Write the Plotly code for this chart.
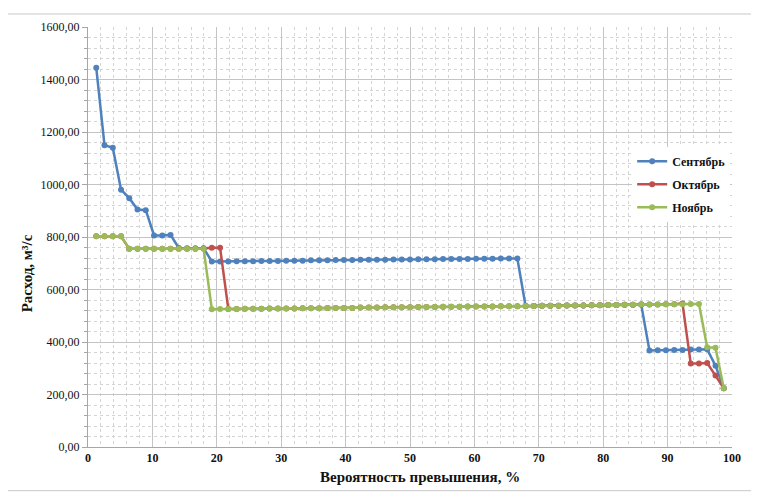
import plotly.graph_objects as go

# exceedance probability, %
prob = [1.28, 2.56, 3.85, 5.13, 6.41, 7.69, 8.97, 10.26, 11.54, 12.82,
        14.10, 15.38, 16.67, 17.95, 19.23, 20.51, 21.79, 23.08, 24.36, 25.64,
        26.92, 28.21, 29.49, 30.77, 32.05, 33.33, 34.62, 35.90, 37.18, 38.46,
        39.74, 41.03, 42.31, 43.59, 44.87, 46.15, 47.44, 48.72, 50.00, 51.28,
        52.56, 53.85, 55.13, 56.41, 57.69, 58.97, 60.26, 61.54, 62.82, 64.10,
        65.38, 66.67, 67.95, 69.23, 70.51, 71.79, 73.08, 74.36, 75.64, 76.92,
        78.21, 79.49, 80.77, 82.05, 83.33, 84.62, 85.90, 87.18, 88.46, 89.74,
        91.03, 92.31, 93.59, 94.87, 96.15, 97.44, 98.72]

sep = [1445, 1150, 1140, 980, 948, 905, 902, 806, 806, 808,
       758, 757, 757, 757, 707, 707, 707, 708, 708, 708,
       709, 709, 709, 710, 710, 710, 711, 711, 711, 712,
       712, 712, 713, 713, 713, 713, 714, 714, 714, 715,
       715, 715, 716, 716, 716, 716, 717, 717, 717, 718,
       718, 718, 537, 537, 538, 538, 538, 539, 539, 539,
       540, 540, 541, 541, 542, 542, 543, 368, 369, 369,
       370, 370, 371, 371, 372, 310, 224]

okt = [803, 803, 803, 803, 755, 755, 755, 755, 755, 755,
       755, 755, 755, 756, 759, 759, 526, 526, 527, 527,
       527, 528, 528, 528, 528, 529, 529, 529, 530, 530,
       530, 530, 531, 531, 531, 532, 532, 532, 532, 533,
       533, 533, 534, 534, 534, 535, 535, 535, 535, 536,
       536, 536, 537, 537, 538, 538, 538, 539, 539, 539,
       540, 540, 541, 541, 542, 542, 543, 543, 543, 544,
       544, 547, 318, 318, 320, 272, 224]

noy = [803, 803, 803, 803, 755, 755, 755, 755, 755, 755,
       755, 755, 755, 755, 525, 526, 526, 526, 527, 527,
       527, 528, 528, 528, 528, 529, 529, 529, 530, 530,
       530, 530, 531, 531, 531, 532, 532, 532, 532, 533,
       533, 533, 534, 534, 534, 535, 535, 535, 535, 536,
       536, 536, 537, 537, 538, 538, 538, 539, 539, 539,
       540, 540, 541, 541, 542, 542, 543, 543, 543, 544,
       544, 544, 545, 545, 380, 378, 224]

series = [('Сентябрь', sep, '#4F81BD'),
          ('Октябрь', okt, '#C0504D'),
          ('Ноябрь', noy, '#9BBB59')]

serif = 'Liberation Serif'

fig = go.Figure()
for name, vals, col in series:
    fig.add_trace(go.Scatter(
        x = prob, y = vals, mode = 'lines+markers', name = '<b>' + name + '</b>',
        legendgroup = name,
        line = dict(color = col, width = 2.5),
        marker = dict(color = col, size = 6)
    ))

# page body adds 8px, so the figure is drawn slightly smaller
fig.update_layout(
    width = 751, height = 494,
    margin = dict(l = 80, r = 27, t = 15, b = 55),
    paper_bgcolor = 'white', plot_bgcolor = 'white',
    separators = ', ',
    font = dict(family = serif, size = 12, color = '#111'),
    legend = dict(x = 0.845, y = 0.715, xanchor = 'left', yanchor = 'top',
                  bgcolor = 'white', font = dict(family = serif, size = 12, color = '#111'),
                  tracegroupgap = 4, itemwidth = 30),
    showlegend = True,
)

fig.update_xaxes(
    range = [0, 100], dtick = 10, tick0 = 0,
    showgrid = True, gridcolor = '#C4C4C4', gridwidth = 1,
    showline = True, linecolor = '#A6A6A6', zeroline = False,
    ticks = '', tickfont = dict(family = serif, size = 12, color = '#111'),
    tickprefix = '<b>', ticksuffix = '</b>',
    minor = dict(dtick = 2, showgrid = True, gridcolor = '#D4D4D4', griddash = 'dot'),
)

fig.update_yaxes(
    range = [0, 1600], dtick = 200, tickformat = '.2f',
    showgrid = True, gridcolor = '#C4C4C4', gridwidth = 1,
    showline = True, linecolor = '#A6A6A6', zeroline = False,
    ticks = 'outside', ticklen = 5, tickcolor = '#A6A6A6',
    tickfont = dict(family = serif, size = 12, color = '#111'),
    minor = dict(dtick = 40, showgrid = True, gridcolor = '#D4D4D4', griddash = 'dot',
                 ticks = 'outside', ticklen = 3, tickcolor = '#A6A6A6'),
)

# axis titles, placed as in the source image
fig.add_annotation(text = '<b>Вероятность превышения, %</b>', xref = 'paper', yref = 'paper',
                   x = 0.516, y = -0.071, xanchor = 'center', yanchor = 'middle',
                   showarrow = False,
                   font = dict(family = serif, size = 15, color = '#111'))
fig.add_annotation(text = '<b>Расход, м³/с</b>', xref = 'paper', yref = 'paper',
                   x = -0.095, y = 0.413, xanchor = 'center', yanchor = 'middle',
                   showarrow = False, textangle = -90,
                   font = dict(family = serif, size = 15, color = '#111'))

# outer chart border
fig.add_shape(type = 'rect', xref = 'paper', yref = 'paper',
              x0 = -0.127, x1 = 1.031, y0 = -0.104, y1 = 1.031,
              line = dict(color = '#C8C8C8', width = 1))

fig.write_html("out.html")
